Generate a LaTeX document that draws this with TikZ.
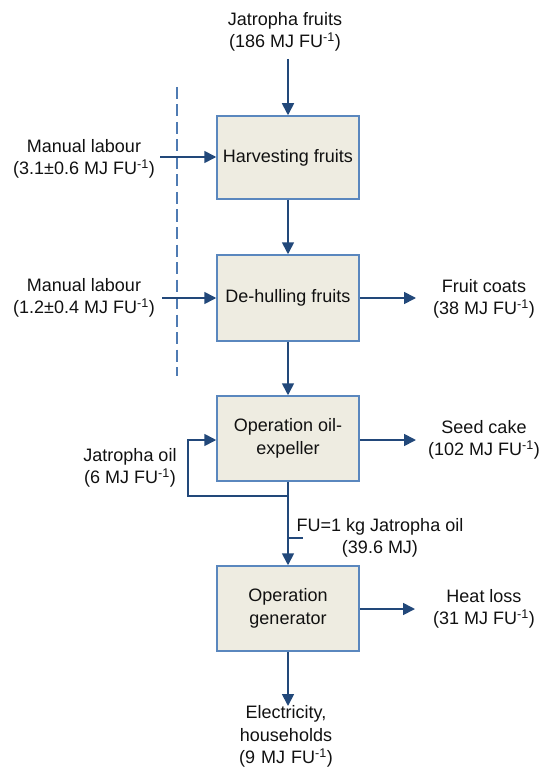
\documentclass[tikz,border=0pt]{standalone}
\usepackage{fontspec}
\setmainfont{Liberation Sans}
\usetikzlibrary{arrows.meta}
\definecolor{boxfill}{HTML}{EEECE1}
\definecolor{boxline}{HTML}{5A87BE}
\definecolor{arrline}{HTML}{22487A}
\definecolor{dashline}{HTML}{4F7BB3}
\definecolor{txt}{HTML}{111111}
\tikzset{
  procbox/.style={draw=boxline, line width=1.5pt, fill=boxfill, minimum width=142pt, minimum height=85pt, align=center, inner sep=2pt, text=txt},
  lbl/.style={align=center, inner sep=0pt, text=txt},
  arr/.style={draw=arrline, line width=1.7pt, -{Triangle[width=12pt,length=12pt]}},
  plainline/.style={draw=arrline, line width=1.4pt},
  dashv/.style={draw=dashline, line width=1.5pt, dash pattern=on 12pt off 5.5pt},
}
\newcommand{\fu}{FU\textsuperscript{-1}}
\begin{document}
\begin{tikzpicture}[x=1pt,y=-1pt]
\useasboundingbox (0,0) rectangle (550,767);
\fontsize{18}{22.5}\selectfont
% dashed boundary
\draw[dashv] (177,87) -- (177,376);
% process boxes
\node[procbox, minimum height=83pt] (harvest) at (288,157.5) {Harvesting fruits};
\node[procbox, minimum height=86pt] (dehull) at (288,298) {De-hulling fruits};
\node[procbox] (expeller) at (288,438.5) {Operation oil-\\expeller};
\node[procbox] (generator) at (288,608.5) {Operation\\generator};
% labels
\node[lbl] (jf) at (285,32) {Jatropha fruits\\(186 MJ \fu)};
\node[lbl] (ml1) at (84,159) {Manual labour\\(3.1±0.6 MJ \fu)};
\node[lbl] (ml2) at (84,298) {Manual labour\\(1.2±0.4 MJ \fu)};
\node[lbl] (fc) at (484,299) {Fruit coats\\(38 MJ \fu)};
\node[lbl] (sc) at (484,440) {Seed cake\\(102 MJ \fu)};
\node[lbl] (jo) at (130,468) {Jatropha oil\\(6 MJ \fu)};
\node[lbl] (fu) at (380,538) {FU=1 kg Jatropha oil\\(39.6 MJ)};
\node[lbl] (hl) at (484,609) {Heat loss\\(31 MJ \fu)};
\node[lbl, text width=150pt] (el) at (286,736.5) {Electricity,\\households\\(9 MJ \fu)};
% free ends
\coordinate (jfend) at (288,59);
\coordinate (ml1end) at (160,157);
\coordinate (ml2end) at (162,298);
\coordinate (fcend) at (416,298);
\coordinate (scend) at (416,440);
\coordinate (hlend) at (415,609);
\coordinate (elend) at (288,706);
\coordinate (split) at (288,496);
\coordinate (tick) at (303,538);
% connectors
\draw[arr] (jfend) -- (harvest.north);
\draw[arr] (ml1end) -- (ml1end -| harvest.west);
\draw[arr] (harvest.south) -- (dehull.north);
\draw[arr] (ml2end) -- (dehull.west);
\draw[arr] (dehull.east) -- (fcend);
\draw[arr] (dehull.south) -- (expeller.north);
\draw[arr] (expeller.east |- scend) -- (scend);
\draw[arr] (expeller.south) -- (generator.north);
\draw[arr] (split) -- ++(-100,0) |- ([yshift=-1.5pt]expeller.west);
\draw[plainline] (tick -| generator.north) -- (tick);
\draw[arr] (generator.east |- hlend) -- (hlend);
\draw[arr] (generator.south) -- (elend);
\end{tikzpicture}
\end{document}
